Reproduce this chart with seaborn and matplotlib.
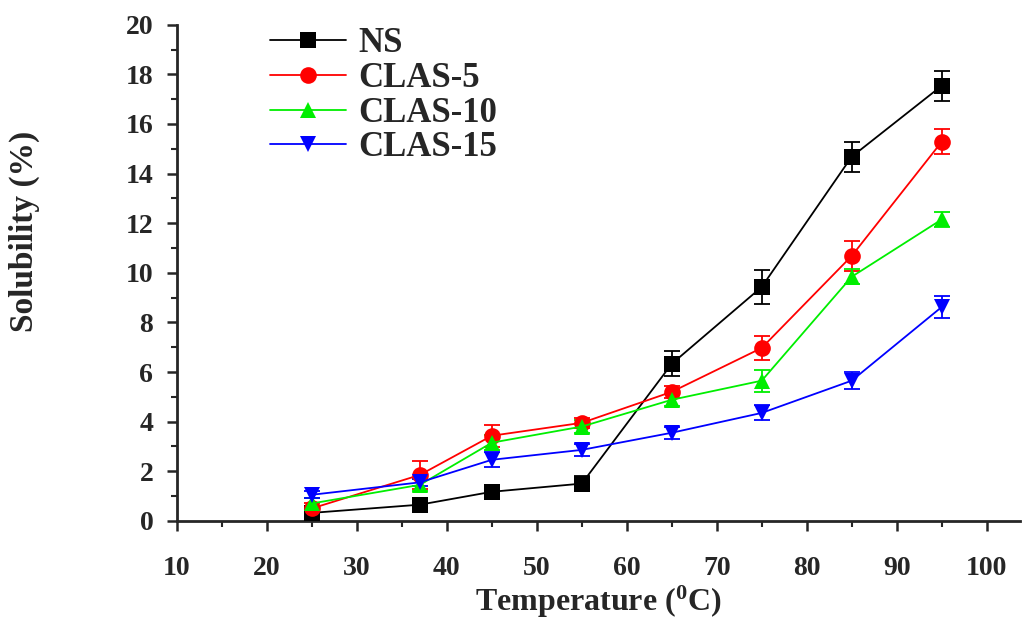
import matplotlib
matplotlib.use("Agg")
import matplotlib.pyplot as plt
import seaborn as sns
import pandas as pd
import numpy as np
from matplotlib.ticker import MultipleLocator

temperature = [25, 37, 45, 55, 65, 75, 85, 95]
series_names = ["NS", "CLAS-5", "CLAS-10", "CLAS-15"]
ns = [0.32, 0.65, 1.17, 1.50, 6.33, 9.43, 14.68, 17.54]
ns_err = [0.15, 0.15, 0.15, 0.30, 0.50, 0.70, 0.60, 0.60]
clas5 = [0.50, 1.85, 3.43, 3.95, 5.20, 6.97, 10.68, 15.28]
clas5_err = [0.20, 0.55, 0.45, 0.20, 0.25, 0.50, 0.60, 0.50]
clas10 = [0.70, 1.45, 3.15, 3.80, 4.88, 5.65, 9.84, 12.15]
clas10_err = [0.20, 0.25, 0.30, 0.25, 0.25, 0.45, 0.30, 0.30]
clas15 = [1.05, 1.55, 2.46, 2.86, 3.55, 4.35, 5.65, 8.62]
clas15_err = [0.15, 0.15, 0.30, 0.25, 0.25, 0.30, 0.35, 0.45]

values = [ns, clas5, clas10, clas15]
errors = [ns_err, clas5_err, clas10_err, clas15_err]
colors = ["#000000", "#ff0000", "#00ee00", "#0000ff"]
markers = ["s", "o", "^", "v"]

rows = []
for name, vals, errs in zip(series_names, values, errors):
    for t, v, e in zip(temperature, vals, errs):
        rows.append({"Temperature": t, "Solubility": v, "err": e, "Sample": name})
df = pd.DataFrame(rows)

sns.set_style("ticks")
plt.rcParams["font.family"] = ["Liberation Serif", "DejaVu Serif"]
plt.rcParams["font.weight"] = "bold"
plt.rcParams["mathtext.fontset"] = "custom"
plt.rcParams["mathtext.rm"] = "Liberation Serif:bold"
plt.rcParams["mathtext.bf"] = "Liberation Serif:bold"
plt.rcParams["mathtext.it"] = "Liberation Serif:bold"

fig = plt.figure(figsize=(10.23, 6.2), dpi=100)
ax = fig.add_axes([0.173, 0.16, 0.824, 0.80])

for name, c, m in zip(series_names, colors, markers):
    sub = df[df["Sample"] == name]
    ax.errorbar(sub["Temperature"], sub["Solubility"], yerr=sub["err"], fmt="none",
                ecolor=c, elinewidth=1.3, capsize=6, capthick=1.3, zorder=2)

sns.lineplot(data=df, x="Temperature", y="Solubility", hue="Sample", style="Sample",
             palette=dict(zip(series_names, colors)),
             markers=dict(zip(series_names, markers)),
             dashes=False, markersize=12, markeredgewidth=0, linewidth=1.3,
             ax=ax, zorder=3)

ax.set_xlim(10, 103.7)
ax.set_ylim(0, 20)
ax.xaxis.set_major_locator(MultipleLocator(10))
ax.xaxis.set_minor_locator(MultipleLocator(5))
ax.yaxis.set_major_locator(MultipleLocator(2))
ax.yaxis.set_minor_locator(MultipleLocator(1))
ax.tick_params(axis="both", which="major", length=7, width=1.8, direction="out", labelsize=20)
ax.tick_params(axis="both", which="minor", length=4, width=1.5, direction="out")
for lab in ax.get_xticklabels() + ax.get_yticklabels():
    lab.set_fontweight("bold")
ax.tick_params(axis="x", pad=18)
ax.tick_params(axis="y", pad=10)
for s in ["top", "right"]:
    ax.spines[s].set_visible(False)
for s in ["left", "bottom"]:
    ax.spines[s].set_linewidth(2)

ax.set_xlabel("Temperature ($^{0}$C)", fontsize=23, fontweight="bold")
ax.set_ylabel("Solubility (%)", fontsize=24, fontweight="bold")
ax.xaxis.set_label_coords(0.5, -0.128)
ax.yaxis.set_label_coords(-0.163, 0.583)

leg = ax.legend(loc="upper left", bbox_to_anchor=(0.110, 0.995), frameon=False,
                handlelength=2.2, handletextpad=0.35, labelspacing=0.05,
                borderpad=0, borderaxespad=0,
                prop={"weight": "bold", "size": 25})
for h in leg.legend_handles:
    h.set_markersize(12)

fig.savefig("out.png", dpi=100)
